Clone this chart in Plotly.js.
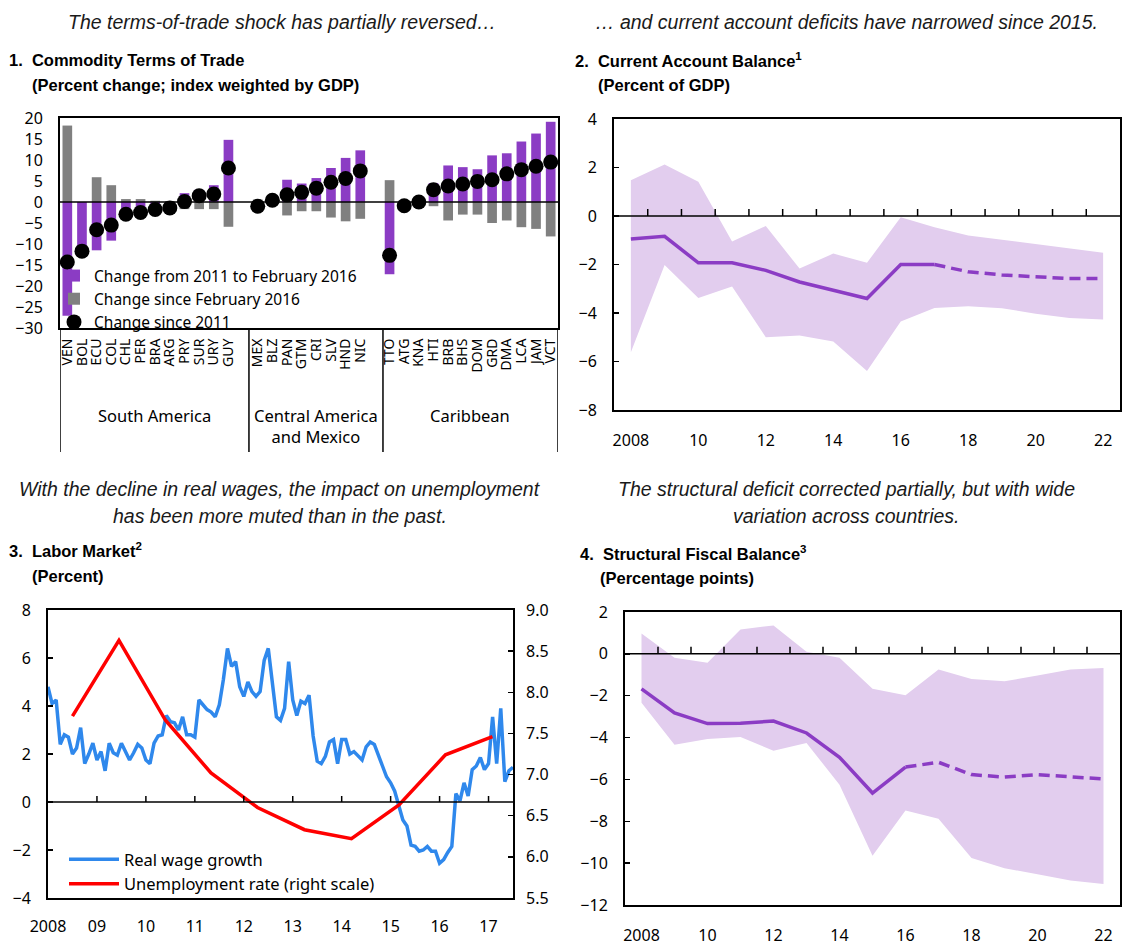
<!DOCTYPE html>
<html>
<head>
<meta charset="utf-8">
<script src="https://cdn.plot.ly/plotly-3.0.1.min.js"></script>
<style>
  html, body { margin: 0; padding: 0; background: #ffffff; }
  #chart { width: 1126px; height: 945px; }
</style>
</head>
<body>
<div id="chart"></div>
<script>
// ---------- Panel 1: commodity terms of trade (percent change) ----------
const saCodes = ['VEN','BOL','ECU','COL','CHL','PER','BRA','ARG','PRY','SUR','URY','GUY'];
const saTo2016 = [-27.1, -11.7, -11.5, -9.2, -3.4, -2.9, -2.0, -1.4, 2.1, 2.9, 4.0, 14.8];
const saSinceFeb = [18.2, 0.0, 5.9, 4.0, 0.7, 0.7, 0.3, 0.2, -1.7, -1.7, -1.7, -5.9];
const saSince2011 = [-14.3, -11.7, -6.6, -5.5, -2.9, -2.5, -1.8, -1.4, 0.1, 1.5, 1.9, 8.1];

const caCodes = ['MEX','BLZ','PAN','GTM','CRI','SLV','HND','NIC'];
const caTo2016 = [-1.5, 0.5, 5.3, 4.4, 5.7, 8.1, 10.5, 12.3];
const caSinceFeb = [0.6, -0.3, -3.2, -2.2, -2.2, -3.7, -4.6, -4.0];
const caSince2011 = [-1.0, 0.4, 1.7, 2.3, 3.3, 4.7, 5.6, 7.4];

const cbCodes = ['TTO','ATG','KNA','HTI','BRB','BHS','DOM','GRD','DMA','LCA','JAM','VCT'];
const cbTo2016 = [-17.2, -0.5, 1.0, 4.5, 8.7, 8.3, 7.8, 11.1, 11.6, 14.4, 16.3, 19.1];
const cbSinceFeb = [5.2, 0.0, -0.4, -1.0, -4.4, -3.0, -3.0, -5.0, -4.4, -6.0, -6.4, -8.2];
const cbSince2011 = [-12.7, -0.9, 0.0, 2.9, 3.8, 4.3, 4.9, 5.3, 6.7, 7.7, 8.5, 9.5];

const groupNames = ['South America', 'Central America<br>and Mexico', 'Caribbean'];

// ---------- Panel 2: current account balance (percent of GDP) ----------
const years = [2008, 2009, 2010, 2011, 2012, 2013, 2014, 2015, 2016, 2017, 2018, 2019, 2020, 2021, 2022];
const caMedian = [-0.95, -0.84, -1.93, -1.93, -2.24, -2.72, -3.06, -3.40, -2.00, -2.00, -2.30, -2.43, -2.50, -2.58, -2.58];
const caUpper = [1.47, 2.12, 1.41, -1.05, -0.41, -2.17, -1.55, -1.93, -0.05, -0.46, -0.80, -0.98, -1.15, -1.32, -1.52];
const caLower = [-5.62, -2.02, -3.38, -2.91, -5.00, -4.93, -5.18, -6.39, -4.35, -3.79, -3.72, -3.80, -4.03, -4.21, -4.27];
const caLastActual = 2017;

// ---------- Panel 3: labor market (percent) ----------
const wageStart = 2008; // first monthly observation: January 2008
const realWage = [
  4.8, 4.1, 4.25, 2.4, 2.8, 2.7, 2.0, 2.25, 3.1, 1.6, 2.0, 2.45,
  1.75, 2.1, 1.3, 2.45, 2.05, 1.95, 2.45, 2.1, 1.75, 2.05, 2.4, 2.25,
  1.75, 1.6, 2.45, 2.75, 2.8, 3.6, 3.35, 3.3, 3.0, 3.55, 2.8, 2.8,
  2.7, 4.25, 4.05, 3.85, 3.75, 3.55, 4.05, 5.1, 6.4, 5.65, 5.85, 4.8,
  4.4, 5.0, 4.6, 4.4, 4.6, 5.9, 6.4, 5.1, 3.55, 3.4, 3.9, 5.85,
  4.25, 3.6, 4.2, 4.1, 4.45, 2.75, 1.7, 1.6, 1.9, 2.5, 2.6, 1.6,
  2.6, 2.6, 2.0, 2.1, 1.9, 1.75, 2.3, 2.5, 2.4, 1.9, 1.5, 1.05,
  0.8, 0.45, -0.1, -0.75, -1.0, -1.8, -1.85, -2.05, -2.0, -1.85, -2.05, -2.05,
  -2.55, -2.4, -2.1, -1.85, 0.35, 0.05, 0.8, 0.25, 1.35, 1.5, 1.85, 1.35,
  1.6, 3.55, 1.6, 3.9, 0.85, 1.3, 1.45
];
const unempDates = [2008.5, 2009.45, 2010.4, 2011.33, 2012.28, 2013.24, 2014.2, 2015.17, 2016.12, 2017.08];
const unempRate = [7.71, 8.63, 7.66, 7.02, 6.60, 6.33, 6.22, 6.63, 7.24, 7.46];
const laborYears = [2008, 2009, 2010, 2011, 2012, 2013, 2014, 2015, 2016, 2017];
const laborYearLabels = ['2008', '09', '10', '11', '12', '13', '14', '15', '16', '17'];

// ---------- Panel 4: structural fiscal balance (percentage points) ----------
const sfMedian = [-1.67, -2.82, -3.33, -3.32, -3.21, -3.78, -4.94, -6.65, -5.41, -5.18, -5.77, -5.89, -5.77, -5.89, -5.98];
const sfUpper = [0.97, -0.19, -0.43, 1.16, 1.36, 0.10, -0.19, -1.67, -1.98, -0.75, -1.20, -1.31, -1.04, -0.75, -0.67];
const sfLower = [-2.34, -4.34, -4.07, -3.97, -4.63, -4.26, -6.25, -9.65, -7.48, -7.88, -9.76, -10.24, -10.53, -10.83, -11.00];
const sfLastActual = 2016;

const evenYearLabels = ['2008', '10', '12', '14', '16', '18', '20', '22'];

// ---------- styling ----------
const W = 1126, H = 945;
const px = v => v / W;          // pixel -> paper x
const py = v => 1 - v / H;      // pixel -> paper y
const TICK = 'Noto Sans, Open Sans, DejaVu Sans, sans-serif';
const HEAD = 'Liberation Sans, Arial, sans-serif';
const PURPLE = '#8b3cc4';
const GRAY = '#808080';
const BAND = '#e2cdee';
const BLUE = '#2f88ec';
const RED = '#ff0000';

// slot positions for panel 1: one empty slot between country groups
const p1 = { x: [], codes: [], to2016: [], sinceFeb: [], since2011: [] };
const gapSlots = [];
const groupList = [[saCodes, saTo2016, saSinceFeb, saSince2011],
                   [caCodes, caTo2016, caSinceFeb, caSince2011],
                   [cbCodes, cbTo2016, cbSinceFeb, cbSince2011]];
let slot = 0;
groupList.forEach(([codes, a, b, c], gi) => {
  codes.forEach((code, i) => {
    p1.x.push(slot); p1.codes.push(code);
    p1.to2016.push(a[i]); p1.sinceFeb.push(b[i]); p1.since2011.push(c[i]);
    slot++;
  });
  if (gi < groupList.length - 1) { gapSlots.push(slot); slot++; }
});
const lastSlot = slot - 1;

const traces = [];

// Panel 1 bars and dots
traces.push({
  type: 'bar', x: p1.x, y: p1.to2016, width: 0.66, xaxis: 'x', yaxis: 'y',
  name: 'Change from 2011 to February 2016', marker: { color: PURPLE },
  legend: 'legend', hoverinfo: 'skip'
});
traces.push({
  type: 'bar', x: p1.x, y: p1.sinceFeb, width: 0.66, xaxis: 'x', yaxis: 'y',
  name: 'Change since February 2016', marker: { color: GRAY },
  legend: 'legend', hoverinfo: 'skip'
});
traces.push({
  type: 'scatter', mode: 'markers', x: p1.x, y: p1.since2011, xaxis: 'x', yaxis: 'y',
  name: 'Change since 2011', marker: { color: '#000000', size: 15 },
  legend: 'legend', hoverinfo: 'skip'
});

// Band + median helper for panels 2 and 4
function bandPanel(xa, ya, lower, upper, median, lastActual) {
  traces.push({ type: 'scatter', mode: 'lines', x: years, y: lower, xaxis: xa, yaxis: ya,
    line: { width: 0, color: BAND }, showlegend: false, hoverinfo: 'skip' });
  traces.push({ type: 'scatter', mode: 'lines', x: years, y: upper, xaxis: xa, yaxis: ya,
    fill: 'tonexty', fillcolor: BAND, line: { width: 0, color: BAND }, showlegend: false, hoverinfo: 'skip' });
  const hx = [], hy = [], fx = [], fy = [];
  years.forEach((yr, i) => {
    if (yr <= lastActual) { hx.push(yr); hy.push(median[i]); }
    if (yr >= lastActual) { fx.push(yr); fy.push(median[i]); }
  });
  traces.push({ type: 'scatter', mode: 'lines', x: hx, y: hy, xaxis: xa, yaxis: ya,
    line: { color: PURPLE, width: 3.5 }, showlegend: false, hoverinfo: 'skip' });
  traces.push({ type: 'scatter', mode: 'lines', x: fx, y: fy, xaxis: xa, yaxis: ya,
    line: { color: PURPLE, width: 3.5, dash: '11px,6px' }, showlegend: false, hoverinfo: 'skip' });
}
bandPanel('x2', 'y2', caLower, caUpper, caMedian, caLastActual);
bandPanel('x4', 'y4', sfLower, sfUpper, sfMedian, sfLastActual);

// Panel 3 lines
const wageX = realWage.map((_, i) => wageStart + i / 12);
traces.push({ type: 'scatter', mode: 'lines', x: wageX, y: realWage, xaxis: 'x3', yaxis: 'y3',
  name: 'Real wage growth', line: { color: BLUE, width: 3.5 }, legend: 'legend2', hoverinfo: 'skip' });
traces.push({ type: 'scatter', mode: 'lines', x: unempDates, y: unempRate, xaxis: 'x3', yaxis: 'y5',
  name: 'Unemployment rate (right scale)', line: { color: RED, width: 3.5 }, legend: 'legend2', hoverinfo: 'skip' });

// ---------- shapes ----------
const shapes = [];
function zeroLine(xa, ya) {
  shapes.push({ type: 'line', xref: xa + ' domain', x0: 0, x1: 1, yref: ya, y0: 0, y1: 0,
    line: { color: '#000000', width: 1.5 }, layer: 'above' });
}
zeroLine('x', 'y'); zeroLine('x2', 'y2'); zeroLine('x3', 'y3'); zeroLine('x4', 'y4');

function zeroTicks(xa, ya, positions, len) {
  positions.forEach(p => shapes.push({
    type: 'line', xref: xa, x0: p, x1: p, yref: ya, ysizemode: 'pixel', yanchor: 0, y0: 0, y1: len,
    line: { color: '#000000', width: 1.5 }, layer: 'above'
  }));
}
const yearBoundaries = years.slice(1).map(y => y - 0.5);
zeroTicks('x2', 'y2', yearBoundaries, 7);
zeroTicks('x4', 'y4', yearBoundaries, 7);
zeroTicks('x3', 'y3', laborYears.slice(1), 6);

// group dividers below panel 1 (inside the empty slots), group names centred between them
const dividerX = [-0.5, gapSlots[0] + 0.4, gapSlots[1] + 0.55, lastSlot + 0.5];
dividerX.forEach(d => shapes.push({
  type: 'line', xref: 'x', x0: d, x1: d, yref: 'paper', y0: py(328), y1: py(452),
  line: { color: '#000000', width: 1.5 }
}));

// ---------- annotations ----------
const ann = [];
function text(t, x, y, opts) {
  ann.push(Object.assign({ text: t, xref: 'paper', yref: 'paper', x: px(x), y: py(y),
    showarrow: false, xanchor: 'left', yanchor: 'middle' }, opts || {}));
}
const italic = { family: HEAD, size: 19.5, color: '#1a1a1a', style: 'italic' };
const bold = { family: HEAD, size: 16.5, color: '#000000', weight: 'bold' };

text('The terms-of-trade shock has partially reversed…', 282, 22, { xanchor: 'center', font: italic });
text('… and current account deficits have narrowed since 2015.', 846, 22, { xanchor: 'center', font: italic });
text('With the decline in real wages, the impact on unemployment', 280, 489, { xanchor: 'center', font: italic });
text('has been more muted than in the past.', 280, 516, { xanchor: 'center', font: italic });
text('The structural deficit corrected partially, but with wide', 846, 489, { xanchor: 'center', font: italic });
text('variation across countries.', 846, 516, { xanchor: 'center', font: italic });

text('1.  Commodity Terms of Trade', 7, 60, { font: bold });
text('(Percent change; index weighted by GDP)', 30, 85, { font: bold });
text('2.  Current Account Balance<sup>1</sup>', 573, 60, { font: bold });
text('(Percent of GDP)', 596, 85, { font: bold });
text('3.  Labor Market<sup>2</sup>', 7, 550, { font: bold });
text('(Percent)', 30, 576, { font: bold });
text('4.  Structural Fiscal Balance<sup>3</sup>', 578, 553, { font: bold });
text('(Percentage points)', 598, 578, { font: bold });

groupNames.forEach((g, i) => ann.push({
  text: g, xref: 'x', yref: 'paper', x: (dividerX[i] + dividerX[i + 1]) / 2, y: py(402), yanchor: 'top',
  xanchor: 'center', showarrow: false, align: 'center',
  font: { family: TICK, size: 16.5, color: '#000000' }
}));

// ---------- axes ----------
const boxLine = { showline: true, mirror: true, linecolor: '#000000', linewidth: 2, showgrid: false, zeroline: false };
const tickFont = { family: TICK, size: 16, color: '#000000' };

const layout = {
  width: W, height: H,
  margin: { l: 0, r: 0, t: 0, b: 0 },
  paper_bgcolor: '#ffffff', plot_bgcolor: 'rgba(0,0,0,0)',
  barmode: 'overlay',
  font: { family: TICK, color: '#000000' },
  showlegend: true,
  xaxis: Object.assign({}, boxLine, {
    domain: [px(60), px(558)], anchor: 'y', range: [-0.5, lastSlot + 0.5],
    tickmode: 'array', tickvals: p1.x, ticktext: p1.codes, tickangle: -90,
    ticks: '', ticklabelstandoff: 3, tickfont: { family: TICK, size: 14, color: '#000000' }
  }),
  yaxis: Object.assign({}, boxLine, {
    domain: [py(328), py(118)], anchor: 'x', range: [-30, 20], dtick: 5,
    ticks: '', ticklabelstandoff: 12, tickfont: tickFont
  }),
  xaxis2: Object.assign({}, boxLine, {
    domain: [px(614), px(1120)], anchor: 'y2', range: [2007.5, 2022.5],
    tickmode: 'array', tickvals: years.filter((_, i) => i % 2 === 0), ticktext: evenYearLabels,
    ticks: '', ticklabelstandoff: 15, tickfont: tickFont
  }),
  yaxis2: Object.assign({}, boxLine, {
    domain: [py(410), py(119)], anchor: 'x2', range: [-8, 4], dtick: 2,
    ticks: 'inside', ticklen: 5, tickwidth: 1.5, tickcolor: '#000000',
    ticklabelstandoff: 12, tickfont: tickFont
  }),
  xaxis3: Object.assign({}, boxLine, {
    domain: [px(48), px(513)], anchor: 'y3', range: [2008, 2017.5],
    tickmode: 'array', tickvals: laborYears, ticktext: laborYearLabels,
    ticks: '', ticklabelstandoff: 13, tickfont: tickFont
  }),
  yaxis3: Object.assign({}, boxLine, {
    domain: [py(898), py(610)], anchor: 'x3', range: [-4, 8], dtick: 2,
    ticks: 'inside', ticklen: 5, tickwidth: 1.5, tickcolor: '#000000',
    ticklabelstandoff: 12, tickfont: tickFont
  }),
  yaxis5: {
    overlaying: 'y3', side: 'right', anchor: 'x3', range: [5.5, 9.0], dtick: 0.5, tickformat: '.1f',
    showgrid: false, zeroline: false, showline: false,
    ticks: 'inside', ticklen: 5, tickwidth: 1.5, tickcolor: '#000000',
    ticklabelstandoff: 12, tickfont: tickFont
  },
  xaxis4: Object.assign({}, boxLine, {
    domain: [px(625), px(1120)], anchor: 'y4', range: [2007.5, 2022.5],
    tickmode: 'array', tickvals: years.filter((_, i) => i % 2 === 0), ticktext: evenYearLabels,
    ticks: '', ticklabelstandoff: 15, tickfont: tickFont
  }),
  yaxis4: Object.assign({}, boxLine, {
    domain: [py(905), py(612)], anchor: 'x4', range: [-12, 2], dtick: 2,
    ticks: 'inside', ticklen: 5, tickwidth: 1.5, tickcolor: '#000000',
    ticklabelstandoff: 12, tickfont: tickFont
  }),
  legend: {
    x: px(54), y: py(259), xanchor: 'left', yanchor: 'top', bgcolor: 'rgba(0,0,0,0)',
    font: { family: TICK, size: 15.5, color: '#000000' }, tracegroupgap: 0, traceorder: 'normal',
    itemclick: false, itemdoubleclick: false
  },
  legend2: {
    x: px(64), y: py(842), xanchor: 'left', yanchor: 'top', bgcolor: 'rgba(0,0,0,0)',
    font: { family: TICK, size: 16.5, color: '#000000' }, tracegroupgap: 0, traceorder: 'normal',
    itemwidth: 50, itemclick: false, itemdoubleclick: false
  },
  shapes: shapes,
  annotations: ann
};

Plotly.newPlot('chart', traces, layout, { displayModeBar: false, staticPlot: true });
</script>
</body>
</html>
